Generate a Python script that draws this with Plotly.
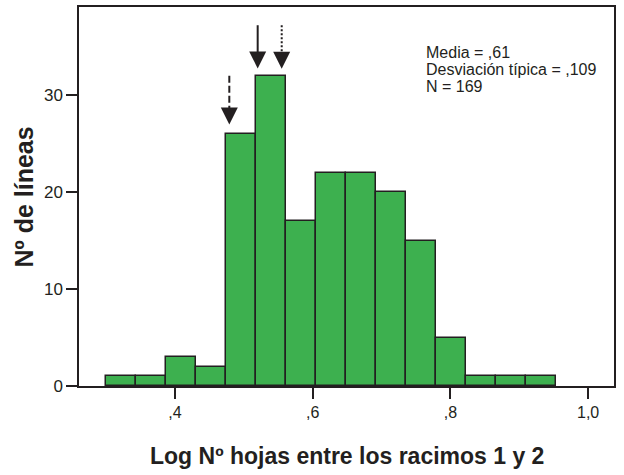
import plotly.graph_objects as go

# ---- data ----
counts = [1, 1, 3, 2, 26, 32, 17, 22, 22, 20, 15, 5, 1, 1, 1]
bin_start = 0.2998
bin_width = 0.04357
x_tick_vals = [0.4, 0.6, 0.8, 1.0]
x_tick_text = [",4", ",6", ",8", "1,0"]
y_tick_vals = [0, 10, 20, 30]
y_tick_text = ["0", "10", "20", "30"]

arrow_x = [0.4789, 0.5201, 0.5550]
arrow_top = [32.0, 37.2, 37.2]
arrow_tip = [26.97, 32.75, 32.7]
arrow_dash = ["7px,3px", "solid", "2px,2px"]

stats_lines = ["Media = ,61", "Desviación típica = ,109", "N = 169"]
x_title = "Log Nº hojas entre los racimos 1 y 2"
y_title = "Nº de líneas"

# ---- styling ----
INK = "#231f20"
GREEN = "#3db04f"
FONT = "Liberation Sans, Arial, sans-serif"
W, H = 624, 475
ML, MR, MT, MB = 79, 10, 5, 89
PW, PH = W - ML - MR, H - MT - MB
XR = [0.2606, 1.0376]
YR = [0, 39.08]

left_edges = [bin_start + i * bin_width for i in range(len(counts))]

fig = go.Figure()
fig.add_trace(go.Bar(
    x=left_edges, y=counts, width=bin_width, offset=0,
    marker=dict(color=GREEN, line=dict(color=INK, width=1.5)),
    showlegend=False, hoverinfo="skip",
))

head_px = 17
y_per_px = (YR[1] - YR[0]) / PH
for xv, yt, yp, ds in zip(arrow_x, arrow_top, arrow_tip, arrow_dash):
    base = yp + head_px * y_per_px
    fig.add_shape(type="line", xref="x", yref="y", x0=xv, x1=xv, y0=yt, y1=base - 0.2,
                  line=dict(color=INK, width=2, dash=ds))
    fig.add_annotation(x=xv, y=yp, ax=xv, ay=base, axref="x", ayref="y", xref="x", yref="y",
                       text="", showarrow=True, arrowhead=2, arrowsize=1.7, arrowwidth=2,
                       arrowcolor=INK, standoff=0)

def py2paper(py):
    return (MT + PH - py) / PH

def px2paper(px):
    return (px - ML) / PW

stats_text = "<br>".join("<span style='font-size:16px'>" + s + "</span>" for s in stats_lines)
fig.add_annotation(text=stats_text, xref="paper", yref="paper", x=px2paper(424), y=py2paper(40),
                   xanchor="left", yanchor="top", align="left", showarrow=False,
                   font=dict(family=FONT, size=13, color=INK))

fig.add_annotation(text="<b>" + x_title + "</b>", xref="paper", yref="paper",
                   x=px2paper(347), y=py2paper(456), xanchor="center", yanchor="middle",
                   showarrow=False, font=dict(family=FONT, size=23, color=INK))
fig.add_annotation(text="<b>" + y_title + "</b>", xref="paper", yref="paper",
                   x=px2paper(23.5), y=py2paper(196), xanchor="center", yanchor="middle",
                   textangle=-90, showarrow=False, font=dict(family=FONT, size=25, color=INK))

fig.update_layout(
    width=W, height=H,
    margin=dict(l=ML, r=MR, t=MT, b=MB),
    paper_bgcolor="white", plot_bgcolor="white",
    bargap=0,
    xaxis=dict(range=XR, tickvals=x_tick_vals, ticktext=x_tick_text,
               ticks="outside", ticklen=11, tickwidth=2, tickcolor=INK,
               showline=True, linecolor=INK, linewidth=1.5, mirror=True,
               showgrid=False, zeroline=False,
               tickfont=dict(family=FONT, size=16, color=INK)),
    yaxis=dict(range=YR, tickvals=y_tick_vals, ticktext=y_tick_text,
               ticks="outside", ticklen=11, tickwidth=2, tickcolor=INK,
               showline=True, linecolor=INK, linewidth=1.5, mirror=True,
               showgrid=False, zeroline=False,
               tickfont=dict(family=FONT, size=17, color=INK)),
)

fig.write_html("out.html")
